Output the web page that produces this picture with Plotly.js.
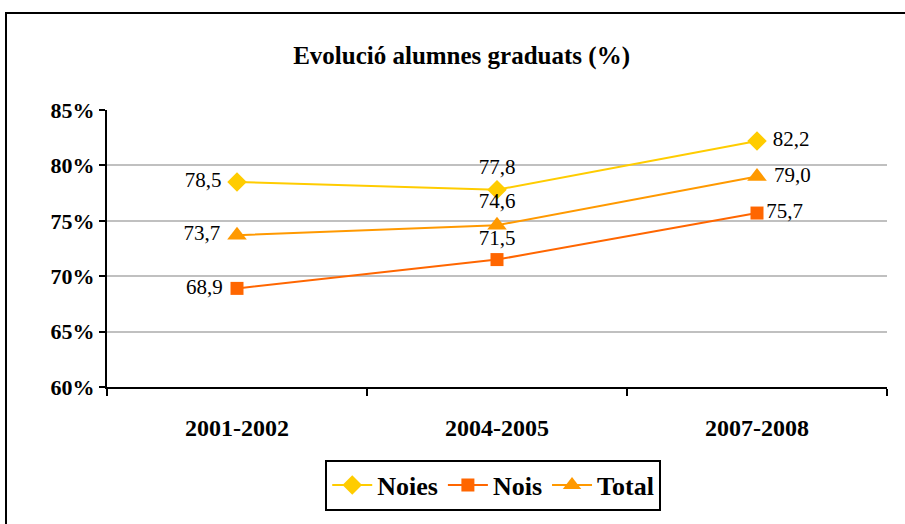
<!DOCTYPE html>
<html>
<head>
<meta charset="utf-8">
<script src="https://cdn.plot.ly/plotly-3.0.1.min.js"></script>
<style>
  body { margin: 0; }
  #frame { position: absolute; left: 5px; top: 12px; width: 905px; height: 524px; border: 2px solid #000; pointer-events: none; }
</style>
</head>
<body>
<div id="chart" style="width:905px;height:524px;"></div>
<div id="frame"></div>
<script>
// Evolució alumnes graduats
var periods = ["2001-2002", "2004-2005", "2007-2008"];
var noies = [78.5, 77.8, 82.2];
var nois = [68.9, 71.5, 75.7];
var total = [73.7, 74.6, 79.0];

var serif = "Liberation Serif, Times New Roman, serif";
var lbl = ["%{y:.1f} ", "%{y:.1f}", " %{y:.1f}"];

var data = [
  {x: periods, y: noies, name: "Noies", mode: "lines+markers+text",
   line: {color: "#FFCC00", width: 2},
   marker: {symbol: "diamond", size: 15, color: "#FFCC00"},
   texttemplate: lbl, textposition: ["middle left", "top center", "middle right"],
   textfont: {family: serif, size: 21, color: "#000"}},
  {x: periods, y: nois, name: "Nois", mode: "lines+markers+text",
   line: {color: "#FF6600", width: 2},
   marker: {symbol: "square", size: 13, color: "#FF6600"},
   texttemplate: ["%{y:.1f} ", "%{y:.1f}", "%{y:.1f}"], textposition: ["middle left", "top center", "middle right"],
   textfont: {family: serif, size: 21, color: "#000"}},
  {x: periods, y: total, name: "Total", mode: "lines+markers+text",
   line: {color: "#FF9900", width: 2},
   marker: {symbol: "triangle-up", size: 17, color: "#FF9900"},
   texttemplate: lbl, textposition: ["middle left", "top center", "middle right"],
   textfont: {family: serif, size: 21, color: "#000"}}
];

var layout = {
  width: 905, height: 524,
  margin: {l: 107, r: 18, t: 110, b: 137},
  separators: ",.",
  paper_bgcolor: "#fff", plot_bgcolor: "#fff",
  font: {family: serif, color: "#000"},
  showlegend: true,
  title: {text: "<b>Evolució alumnes graduats (%)</b>", font: {family: serif, size: 25, color: "#000"},
          xref: "container", x: 0.51, xanchor: "center", yref: "container", y: 0.895, yanchor: "middle"},
  xaxis: {type: "category", range: [-0.5, 2.5], tickson: "boundaries", ticks: "outside", ticklen: 7,
          tickwidth: 1.5, tickcolor: "#000", showline: true, linecolor: "#000", linewidth: 2,
          showgrid: false, zeroline: false, fixedrange: true, ticklabelstandoff: 18,
          tickfont: {family: serif, size: 24, color: "#000", weight: "bold"}},
  yaxis: {range: [60, 85], dtick: 5, ticksuffix: "%", ticks: "outside", ticklen: 6,
          tickwidth: 1.5, tickcolor: "#000", showline: true, linecolor: "#000", linewidth: 2,
          gridcolor: "#c0c0c0", gridwidth: 2, zeroline: false, fixedrange: true,
          tickfont: {family: serif, size: 22, color: "#000", weight: "bold"}},
  legend: {orientation: "h", xref: "container", x: 0.545, xanchor: "center",
           yref: "container", y: 0.074, yanchor: "middle",
           bordercolor: "#000", borderwidth: 2, bgcolor: "#fff", itemwidth: 40,
           font: {family: serif, size: 26, color: "#000", weight: "bold"}}
};

Plotly.newPlot("chart", data, layout, {displayModeBar: false});
</script>
</body>
</html>
